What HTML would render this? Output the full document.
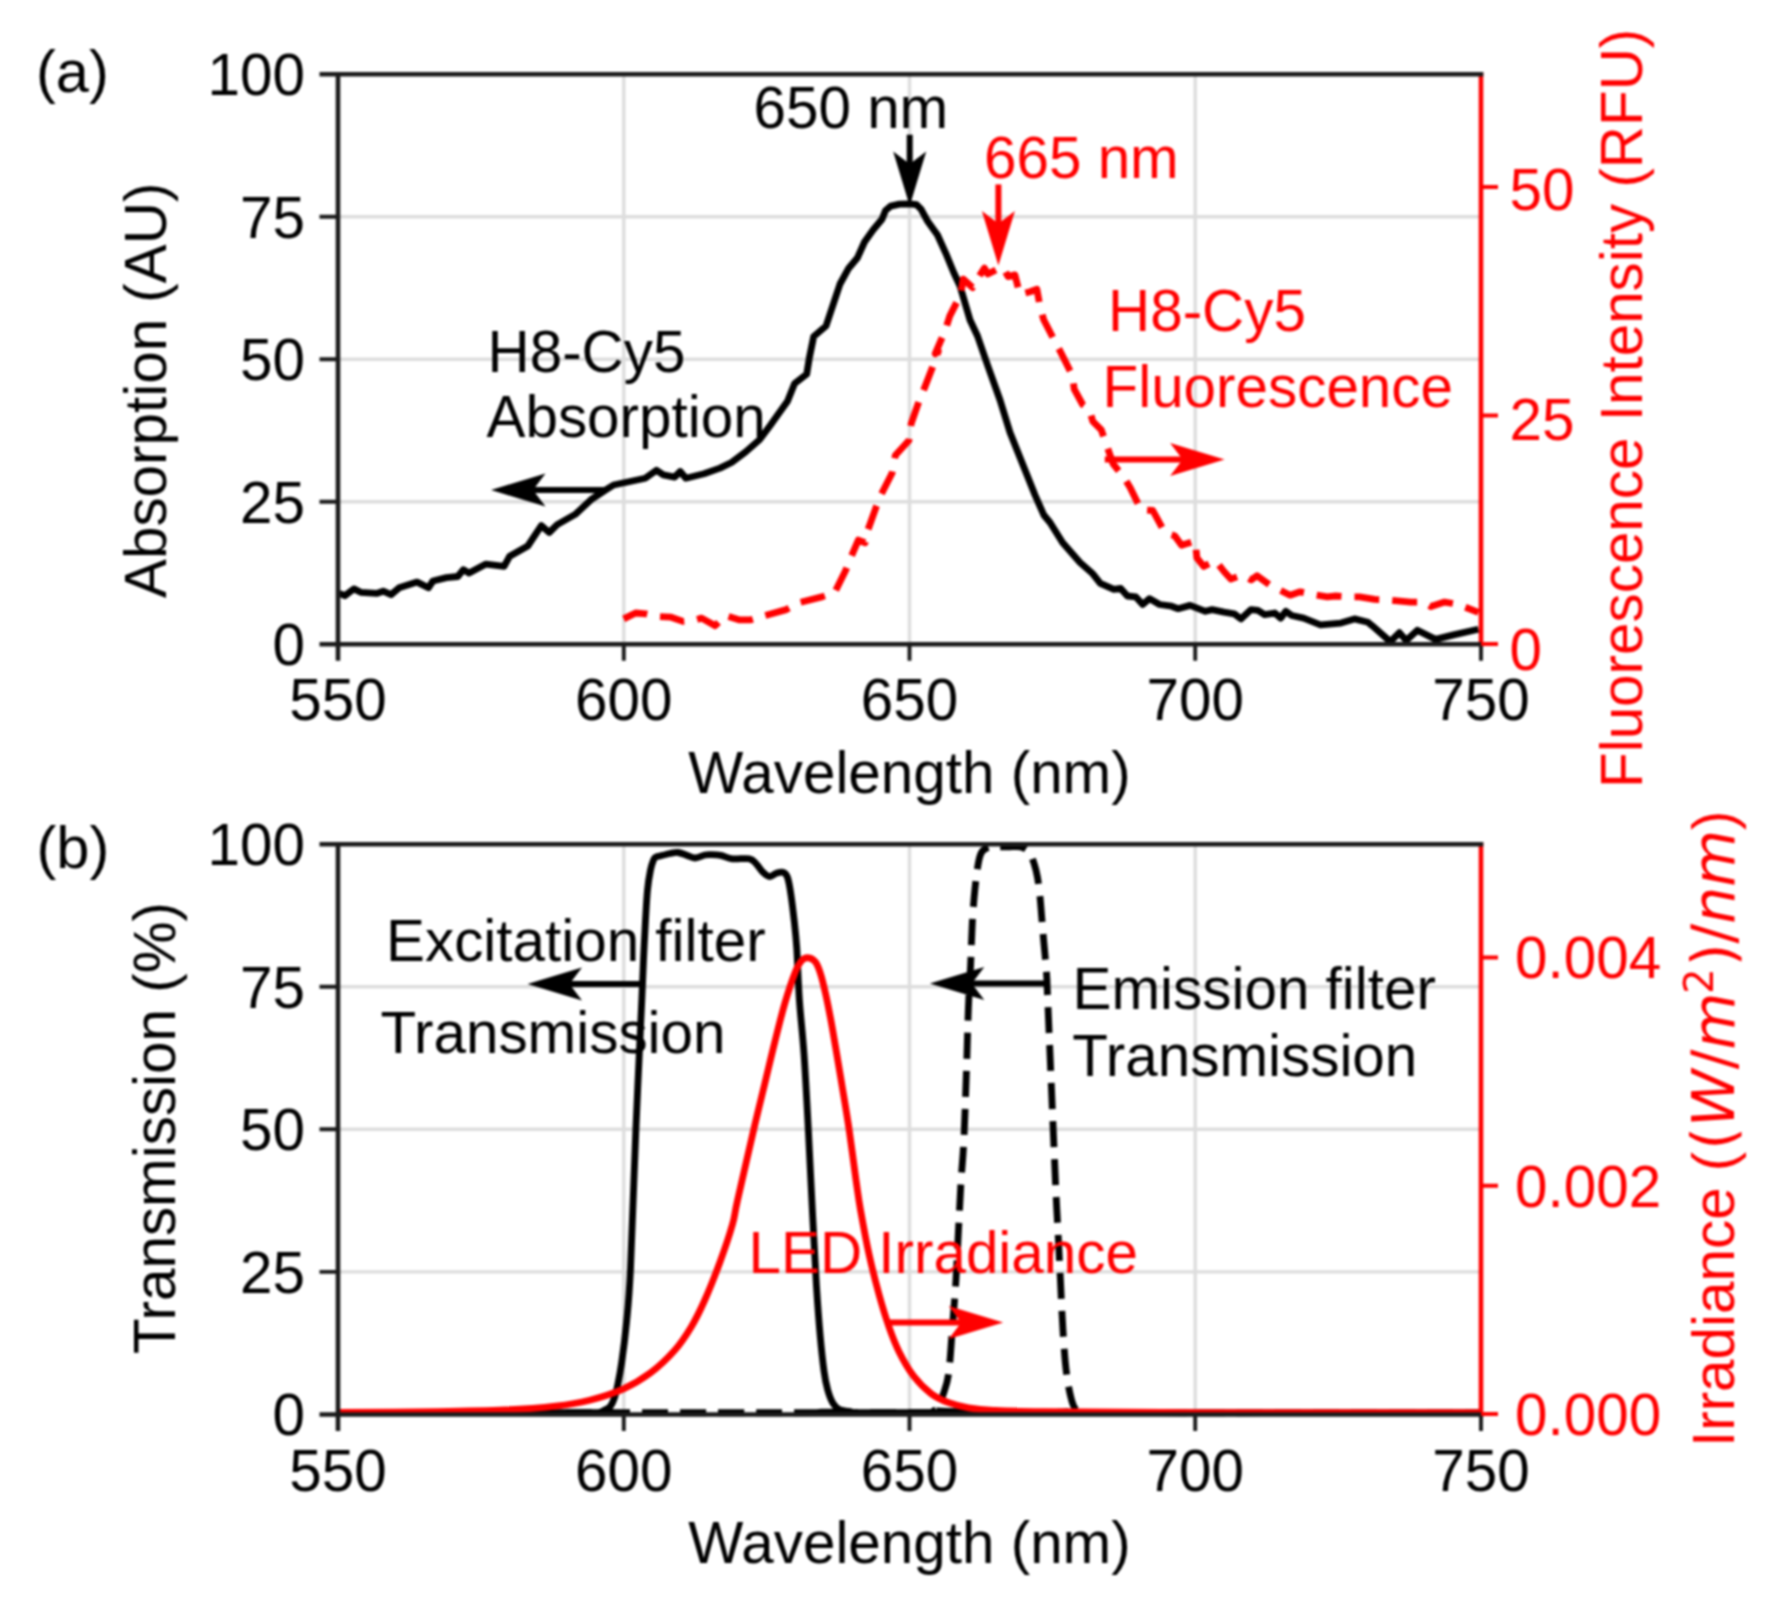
<!DOCTYPE html>
<html lang="en"><head><meta charset="utf-8"><title>H8-Cy5 spectra and filter transmission</title>
<style>html,body{margin:0;padding:0;background:#fff}svg{display:block;filter:blur(0.9px)}text{font-family:'Liberation Sans', Arial, Helvetica, sans-serif;font-size:58.4px}</style></head><body>
<svg width="1771" height="1600" viewBox="0 0 1771 1600">
<rect width="1771" height="1600" fill="#fff"/>
<g id="grid-a">
<path d="M623.8 74.3 V644.3 M338.0 216.8 H1481.0 M909.5 74.3 V644.3 M338.0 359.3 H1481.0 M1195.2 74.3 V644.3 M338.0 501.8 H1481.0" stroke="#dddddd" stroke-width="3.4" fill="none"/>
</g>
<g id="panel-a">
<path d="M339.2 593.4 L344.8 595.7 L353.9 588.9 L360.7 592.3 L376.5 593.4 L383.2 591.2 L391.1 594.6 L399.1 587.8 L417.1 582.1 L428.4 587.8 L432.9 581.0 L446.5 577.6 L457.8 576.5 L463.4 569.7 L469.1 573.1 L486.0 564.1 L504.1 566.3 L509.7 556.2 L527.8 546.0 L541.3 525.7 L549.2 532.5 L557.2 524.6 L575.2 514.4 L591.0 499.7 L604.6 490.7 L613.6 485.0 L645.2 478.2 L656.5 470.3 L663.3 474.9 L674.6 477.1 L680.2 471.5 L685.9 478.2 L704.0 473.7 L720.0 468.1 L731.5 462.5 L745.5 452.0 L759.5 439.7 L770.0 425.7 L778.7 413.5 L787.5 401.2 L794.5 383.7 L806.7 374.1 L809.4 357.5 L813.7 336.5 L826.0 326.0 L833.0 305.0 L840.0 284.0 L848.7 268.2 L857.5 257.7 L864.5 242.0 L873.2 229.7 L882.0 219.2 L885.5 210.5 L890.7 206.1 L899.5 204.1 L909.7 203.8 L916.5 204.7 L921.0 209.2 L927.8 221.6 L937.5 235.0 L945.8 253.3 L953.7 272.5 L960.0 286.0 L970.0 320.0 L977.5 336.0 L987.5 365.0 L1000.0 400.0 L1010.0 432.5 L1025.0 470.0 L1035.0 495.0 L1043.8 515.0 L1050.0 522.5 L1062.5 542.5 L1080.0 562.5 L1092.5 573.5 L1093.6 574.9 L1100.3 583.3 L1113.9 589.3 L1120.7 588.4 L1127.4 596.0 L1135.9 596.9 L1142.7 604.5 L1149.5 598.6 L1159.6 604.5 L1171.5 606.2 L1178.2 608.7 L1190.1 605.4 L1205.4 611.3 L1212.1 609.6 L1224.0 612.1 L1234.2 613.8 L1240.9 618.9 L1251.1 609.6 L1257.9 610.4 L1264.6 614.7 L1274.8 613.0 L1280.7 618.1 L1285.8 611.3 L1291.7 615.5 L1303.6 618.1 L1320.5 624.8 L1340.9 623.1 L1354.4 618.9 L1368.0 622.3 L1372.3 625.8 L1390.3 641.6 L1399.4 632.6 L1406.2 640.5 L1417.4 630.3 L1435.5 639.4 L1453.6 634.9 L1478.4 629.2" stroke="#000000" stroke-width="6.8" fill="none" stroke-linejoin="round"/>
<path d="M623.7 618.9 L635.6 613.0 L645.7 613.8 L657.6 616.4 L671.1 617.2 L683.0 621.4 L693.2 620.6 L701.6 618.1 L715.2 625.7 L725.4 615.5 L738.9 619.8 L750.8 619.8 L761.8 616.4 L786.3 609.6 L798.2 602.8 L821.9 596.9 L834.6 592.6 L845.6 570.6 L850.7 557.9 L858.3 540.1 L865.1 542.7 L867.6 530.8 L876.1 507.1 L881.2 494.4 L892.0 473.3 L895.4 455.2 L908.9 440.5 L911.2 423.6 L919.1 401.0 L924.7 387.4 L932.6 367.1 L938.3 351.3 L935.2 353.7 L945.4 329.9 L949.6 316.4 L960.7 294.4 L963.2 279.1 L972.5 287.6 L978.4 277.4 L984.4 268.1 L987.8 274.0 L996.2 269.8 L1003.0 267.3 L1008.1 276.6 L1014.9 274.9 L1019.9 294.4 L1030.1 291.8 L1036.9 289.3 L1040.3 307.9 L1043.7 319.8 L1055.5 342.6 L1060.6 352.0 L1072.5 375.7 L1074.2 389.2 L1082.6 404.5 L1089.4 409.6 L1092.8 421.4 L1101.3 429.9 L1106.3 444.3 L1113.1 463.8 L1123.3 476.5 L1130.1 487.5 L1141.0 509.6 L1152.8 510.5 L1164.7 532.5 L1174.9 535.9 L1181.6 545.2 L1195.2 541.0 L1196.9 557.9 L1203.7 566.4 L1215.5 560.5 L1224.0 571.5 L1230.8 579.1 L1242.6 574.9 L1251.1 579.9 L1257.0 575.7 L1269.7 585.0 L1276.5 588.4 L1290.1 595.2 L1300.2 591.8 L1312.1 594.3 L1327.3 596.9 L1335.8 596.0 L1349.3 596.9 L1359.5 596.9 L1374.7 599.4 L1388.1 599.9 L1410.7 602.1 L1424.2 602.1 L1431.0 606.6 L1444.6 602.1 L1458.1 604.4 L1478.4 612.3" stroke="#ff0000" stroke-width="6.8" fill="none" stroke-linejoin="round" stroke-dasharray="25 13"/>
<path d="M1481.0 72.0 V646.6" stroke="#ff0000" stroke-width="4.6" fill="none"/>
<path d="M319.5 74.3 H1483.3 M338.0 74.3 V660.8 M319.5 644.3 H1483.3" stroke="#1a1a1a" stroke-width="4.6" fill="none" stroke-linecap="butt"/>
<path d="M319.5 216.8 H338.0 M319.5 359.3 H338.0 M319.5 501.8 H338.0 M623.8 644.3 V660.8 M909.5 644.3 V660.8 M1195.2 644.3 V660.8 M1481.0 644.3 V660.8" stroke="#1a1a1a" stroke-width="3.9" fill="none"/>
<path d="M1481.0 644.0 H1498.0 M1481.0 415.5 H1498.0 M1481.0 187.0 H1498.0" stroke="#ff0000" stroke-width="3.9" fill="none"/>
<text x="1509.5" y="670.2" fill="#ff0000" text-anchor="start">0</text>
<text x="1509.5" y="439.5" fill="#ff0000" text-anchor="start">25</text>
<text x="1509.5" y="209.8" fill="#ff0000" text-anchor="start">50</text>
<text x="305.0" y="95.2" fill="#000000" text-anchor="end">100</text>
<text x="305.0" y="237.7" fill="#000000" text-anchor="end">75</text>
<text x="305.0" y="380.2" fill="#000000" text-anchor="end">50</text>
<text x="305.0" y="522.7" fill="#000000" text-anchor="end">25</text>
<text x="305.0" y="665.2" fill="#000000" text-anchor="end">0</text>
<text x="338.0" y="720.0" fill="#000000" text-anchor="middle">550</text>
<text x="623.8" y="720.0" fill="#000000" text-anchor="middle">600</text>
<text x="909.5" y="720.0" fill="#000000" text-anchor="middle">650</text>
<text x="1195.2" y="720.0" fill="#000000" text-anchor="middle">700</text>
<text x="1481.0" y="720.0" fill="#000000" text-anchor="middle">750</text>
<text x="909.5" y="793.0" fill="#000000" text-anchor="middle">Wavelength (nm)</text>
<text transform="translate(166.0 598.0) rotate(-90)" fill="#000000" text-anchor="start">Absorption (AU)</text>
<text transform="translate(1642.0 788.0) rotate(-90)" fill="#ff0000" text-anchor="start">Fluorescence Intensity (RFU)</text>
<text x="36.0" y="92.3" fill="#000000" text-anchor="start" style="font-size:59.6px">(a)</text>
<text x="753.5" y="128.0" fill="#000000" text-anchor="start">650 nm</text>
<text x="984.0" y="177.5" fill="#ff0000" text-anchor="start">665 nm</text>
<text x="487.5" y="372.0" fill="#000000" text-anchor="start">H8-Cy5</text>
<text x="486.5" y="436.5" fill="#000000" text-anchor="start">Absorption</text>
<text x="1108.0" y="330.5" fill="#ff0000" text-anchor="start">H8-Cy5</text>
<text x="1102.5" y="407.0" fill="#ff0000" text-anchor="start">Fluorescence</text>
<path d="M909.7 134.7 V168.0" stroke="#000000" stroke-width="6.0" fill="none"/>
<path d="M909.7 206.0 L893.2 151.5 L909.7 164.0 L926.2 151.5 Z" fill="#000000"/>
<path d="M998.4 184.4 V227.5" stroke="#ff0000" stroke-width="6.0" fill="none"/>
<path d="M998.4 265.5 L981.9 211.0 L998.4 223.5 L1014.9 211.0 Z" fill="#ff0000"/>
<path d="M606.0 490.0 H529.0" stroke="#000000" stroke-width="6.0" fill="none"/>
<path d="M491.0 490.0 L545.5 473.5 L533.0 490.0 L545.5 506.5 Z" fill="#000000"/>
<path d="M1104.8 459.5 H1186.6" stroke="#ff0000" stroke-width="6.0" fill="none"/>
<path d="M1224.6 459.5 L1170.1 443.0 L1182.6 459.5 L1170.1 476.0 Z" fill="#ff0000"/>
</g>
<g id="grid-b">
<path d="M623.8 844.2 V1414.5 M338.0 986.8 H1481.0 M909.5 844.2 V1414.5 M338.0 1129.3 H1481.0 M1195.2 844.2 V1414.5 M338.0 1271.9 H1481.0" stroke="#dddddd" stroke-width="3.4" fill="none"/>
</g>
<g id="panel-b">
<path d="M338.0 1412.6 C380.0 1412.6 546.3 1412.7 590.0 1412.6 C633.7 1412.5 597.7 1412.4 600.0 1412.1 C602.3 1411.8 601.9 1411.6 603.6 1410.6 C605.3 1409.6 608.5 1408.5 610.3 1406.3 C612.1 1404.2 613.1 1401.6 614.4 1397.9 C615.6 1394.3 616.6 1390.2 617.8 1384.4 C619.0 1378.6 620.1 1373.2 621.6 1362.9 C623.1 1352.6 625.0 1338.3 626.5 1322.6 C628.0 1306.9 628.9 1301.1 630.5 1268.8 C632.1 1236.5 634.0 1173.8 635.9 1129.0 C637.8 1084.2 640.5 1028.2 641.8 1000.0 C643.1 971.8 642.9 973.3 643.5 960.0 C644.1 946.7 644.8 931.7 645.5 920.0 C646.2 908.3 646.7 898.3 647.5 890.0 C648.3 881.7 649.5 875.0 650.5 870.0 C651.5 865.0 652.6 862.2 653.5 860.0 C654.4 857.8 654.9 857.7 656.0 857.0 C657.1 856.3 657.7 856.6 660.0 856.0 C662.3 855.4 667.0 854.1 670.0 853.5 C673.0 852.9 675.3 852.2 678.0 852.5 C680.7 852.8 683.2 854.1 686.0 855.0 C688.8 855.9 691.8 858.0 695.0 858.0 C698.2 858.0 702.4 855.6 705.0 855.0 C707.6 854.4 707.8 854.5 710.4 854.6 C713.0 854.7 716.9 854.7 720.6 855.4 C724.3 856.1 727.7 858.2 732.5 858.8 C737.3 859.4 745.4 857.9 749.4 858.8 C753.4 859.6 753.9 861.6 756.2 863.9 C758.5 866.1 760.8 870.2 763.0 872.3 C765.2 874.4 767.5 876.5 769.7 876.6 C772.0 876.8 774.2 873.9 776.5 873.2 C778.8 872.5 781.5 871.6 783.3 872.3 C785.1 873.0 786.2 873.7 787.5 877.4 C788.8 881.1 789.8 887.0 790.9 894.4 C792.0 901.8 793.3 912.5 794.3 921.5 C795.3 930.5 795.9 935.5 796.8 948.6 C797.6 961.7 798.2 982.5 799.4 1000.0 C800.6 1017.5 802.5 1032.3 804.0 1053.8 C805.5 1075.3 806.9 1102.1 808.3 1129.0 C809.7 1155.9 811.2 1189.0 812.6 1215.0 C814.0 1241.0 815.1 1264.8 816.4 1285.0 C817.7 1305.2 818.9 1321.7 820.2 1336.0 C821.5 1350.3 822.8 1362.0 824.0 1371.0 C825.2 1380.0 826.2 1384.4 827.7 1389.8 C829.2 1395.2 831.1 1400.2 833.1 1403.5 C835.1 1406.8 836.9 1408.3 839.8 1409.7 C842.7 1411.0 845.5 1411.1 850.5 1411.6 C855.5 1412.1 764.9 1412.4 870.0 1412.6 C975.1 1412.8 1379.2 1412.6 1481.0 1412.6" stroke="#000000" stroke-width="6.8" fill="none" stroke-linejoin="round"/>
<path d="M338.0 1412.6 C435.8 1412.6 825.7 1412.9 925.0 1412.6 C1024.3 1412.3 931.7 1411.6 934.0 1410.6 C936.3 1409.6 937.1 1409.1 938.6 1406.5 C940.1 1403.9 941.3 1400.5 943.0 1395.0 C944.7 1389.5 947.1 1384.8 948.6 1373.8 C950.1 1362.8 951.1 1344.8 952.3 1329.1 C953.5 1313.4 955.0 1296.0 956.0 1279.4 C957.0 1262.8 957.6 1246.3 958.5 1229.7 C959.4 1213.1 960.2 1194.4 961.1 1180.0 C962.0 1165.6 962.8 1160.7 963.7 1143.3 C964.6 1125.9 965.5 1098.1 966.3 1075.5 C967.1 1052.9 967.7 1026.1 968.4 1007.8 C969.1 989.5 970.1 976.5 970.6 965.5 C971.1 954.5 971.1 950.3 971.5 941.8 C971.9 933.3 972.2 923.5 972.8 914.7 C973.4 906.0 974.0 897.8 974.9 889.3 C975.8 880.8 977.1 870.1 978.2 863.9 C979.3 857.7 980.0 855.0 981.6 852.3 C983.2 849.6 985.7 848.4 988.0 847.5 C990.3 846.6 991.9 847.0 995.2 846.9 C998.5 846.8 1003.8 846.9 1008.0 846.9 C1012.2 846.9 1017.1 846.0 1020.6 846.9 C1024.1 847.8 1026.8 849.2 1029.1 852.0 C1031.4 854.8 1032.8 859.7 1034.2 863.9 C1035.6 868.1 1036.5 871.8 1037.5 877.4 C1038.5 883.0 1039.4 891.0 1040.1 897.8 C1040.8 904.6 1041.2 911.3 1041.8 918.1 C1042.4 924.9 1042.9 931.9 1043.5 938.4 C1044.1 944.9 1044.6 950.2 1045.2 957.0 C1045.8 963.8 1046.5 972.0 1046.9 979.1 C1047.3 986.2 1046.3 965.9 1047.7 999.4 C1049.1 1032.9 1053.7 1141.6 1055.4 1180.0 C1057.1 1218.4 1057.1 1213.1 1057.9 1229.7 C1058.7 1246.3 1059.6 1262.8 1060.4 1279.4 C1061.2 1296.0 1061.9 1313.4 1062.9 1329.1 C1063.9 1344.8 1064.9 1361.3 1066.6 1373.8 C1068.2 1386.3 1070.7 1397.8 1072.8 1403.9 C1074.9 1410.1 1076.1 1409.2 1079.0 1410.6 C1081.9 1412.0 1023.0 1412.3 1090.0 1412.6 C1157.0 1412.9 1415.8 1412.6 1481.0 1412.6" stroke="#000000" stroke-width="6.8" fill="none" stroke-linejoin="round" stroke-dasharray="26 12"/>
<path d="M338.9 1412.4 C355.3 1412.3 409.5 1412.0 437.2 1411.6 C464.9 1411.2 485.1 1410.9 504.9 1410.0 C524.6 1409.1 541.6 1407.8 555.7 1406.1 C569.8 1404.5 578.3 1403.1 589.6 1400.2 C600.9 1397.3 613.3 1393.4 623.5 1388.8 C633.7 1384.2 642.1 1379.1 650.6 1372.8 C659.1 1366.5 667.5 1358.4 674.3 1350.8 C681.1 1343.2 686.1 1335.5 691.2 1327.0 C696.3 1318.5 700.0 1310.8 704.8 1300.0 C709.6 1289.2 715.4 1274.5 720.0 1262.0 C724.6 1249.5 729.5 1235.0 732.4 1224.7 C735.3 1214.4 733.9 1216.4 737.6 1200.0 C741.3 1183.6 750.0 1145.6 754.5 1126.3 C759.0 1107.0 761.3 1098.1 764.7 1084.0 C768.1 1069.9 771.5 1055.1 774.9 1041.6 C778.3 1028.0 781.6 1014.3 785.0 1002.7 C788.4 991.1 792.4 979.3 795.2 972.2 C798.0 965.1 799.8 962.7 802.0 960.3 C804.2 957.9 806.5 957.5 808.7 957.8 C811.0 958.1 813.5 959.3 815.5 962.0 C817.5 964.7 818.9 968.5 820.6 973.9 C822.3 979.3 824.0 986.6 825.7 994.2 C827.4 1001.8 829.1 1010.6 830.8 1019.6 C832.5 1028.6 833.8 1036.8 835.8 1048.4 C837.8 1060.0 840.3 1075.2 842.6 1089.0 C844.9 1102.8 847.2 1116.2 849.4 1131.4 C851.6 1146.6 854.1 1166.9 856.0 1180.0 C857.9 1193.1 858.3 1197.4 860.5 1209.8 C862.7 1222.2 866.0 1240.4 869.1 1254.5 C872.2 1268.6 875.7 1282.3 879.0 1294.3 C882.3 1306.3 885.6 1317.1 888.9 1326.6 C892.2 1336.1 894.8 1343.1 898.9 1351.4 C903.0 1359.7 908.4 1369.2 913.8 1376.3 C919.2 1383.3 925.4 1389.3 931.2 1393.7 C937.0 1398.1 942.4 1400.3 948.6 1402.7 C954.8 1405.0 961.0 1406.5 968.4 1407.8 C975.8 1409.1 980.9 1409.8 993.3 1410.4 C1005.7 1411.0 1008.5 1411.2 1043.0 1411.6 C1077.5 1412.0 1127.0 1412.4 1200.0 1412.6 C1273.0 1412.8 1434.2 1412.6 1481.0 1412.6" stroke="#ff0000" stroke-width="6.8" fill="none" stroke-linejoin="round"/>
<path d="M1481.0 841.9 V1416.8" stroke="#ff0000" stroke-width="4.6" fill="none"/>
<path d="M319.5 844.2 H1483.3 M338.0 844.2 V1431.0 M319.5 1414.5 H1483.3" stroke="#1a1a1a" stroke-width="4.6" fill="none" stroke-linecap="butt"/>
<path d="M319.5 986.8 H338.0 M319.5 1129.3 H338.0 M319.5 1271.9 H338.0 M623.8 1414.5 V1431.0 M909.5 1414.5 V1431.0 M1195.2 1414.5 V1431.0 M1481.0 1414.5 V1431.0" stroke="#1a1a1a" stroke-width="3.9" fill="none"/>
<path d="M1481.0 1414.0 H1498.0 M1481.0 1185.8 H1498.0 M1481.0 957.5 H1498.0" stroke="#ff0000" stroke-width="3.9" fill="none"/>
<text x="1515.0" y="1434.9" fill="#ff0000" text-anchor="start">0.000</text>
<text x="1515.0" y="1206.7" fill="#ff0000" text-anchor="start">0.002</text>
<text x="1515.0" y="978.4" fill="#ff0000" text-anchor="start">0.004</text>
<text x="305.0" y="865.1" fill="#000000" text-anchor="end">100</text>
<text x="305.0" y="1007.7" fill="#000000" text-anchor="end">75</text>
<text x="305.0" y="1150.3" fill="#000000" text-anchor="end">50</text>
<text x="305.0" y="1292.8" fill="#000000" text-anchor="end">25</text>
<text x="305.0" y="1435.4" fill="#000000" text-anchor="end">0</text>
<text x="338.0" y="1490.5" fill="#000000" text-anchor="middle">550</text>
<text x="623.8" y="1490.5" fill="#000000" text-anchor="middle">600</text>
<text x="909.5" y="1490.5" fill="#000000" text-anchor="middle">650</text>
<text x="1195.2" y="1490.5" fill="#000000" text-anchor="middle">700</text>
<text x="1481.0" y="1490.5" fill="#000000" text-anchor="middle">750</text>
<text x="909.5" y="1563.0" fill="#000000" text-anchor="middle">Wavelength (nm)</text>
<text transform="translate(174.5 1354.0) rotate(-90)" fill="#000000" text-anchor="start">Transmission (%)</text>
<text transform="translate(1734 1447) rotate(-90)" fill="#ff0000">Irradiance (<tspan font-family="'DejaVu Sans', 'Liberation Sans', sans-serif" dx="2">(</tspan><tspan font-family="'DejaVu Sans', 'Liberation Sans', sans-serif" font-style="italic">W</tspan><tspan font-family="'DejaVu Sans', 'Liberation Sans', sans-serif">/</tspan><tspan font-family="'DejaVu Sans', 'Liberation Sans', sans-serif" font-style="italic">m</tspan><tspan font-family="'DejaVu Sans', 'Liberation Sans', sans-serif" font-size="40.6px" dy="-21" dx="-1.5">2</tspan><tspan font-family="'DejaVu Sans', 'Liberation Sans', sans-serif" dy="21" dx="2">)/</tspan><tspan font-family="'DejaVu Sans', 'Liberation Sans', sans-serif" font-style="italic">nm</tspan>)</text>
<text x="36.5" y="867.5" fill="#000000" text-anchor="start" style="font-size:59.6px">(b)</text>
<text x="386.0" y="960.5" fill="#000000" text-anchor="start">Excitation filter</text>
<text x="380.5" y="1052.5" fill="#000000" text-anchor="start">Transmission</text>
<text x="1072.5" y="1009.0" fill="#000000" text-anchor="start">Emission filter</text>
<text x="1072.3" y="1076.0" fill="#000000" text-anchor="start">Transmission</text>
<text x="748.5" y="1272.5" fill="#ff0000" text-anchor="start">LED Irradiance</text>
<path d="M641.0 984.0 H565.5" stroke="#000000" stroke-width="6.0" fill="none"/>
<path d="M527.5 984.0 L582.0 967.5 L569.5 984.0 L582.0 1000.5 Z" fill="#000000"/>
<path d="M1044.5 983.5 H967.8" stroke="#000000" stroke-width="6.0" fill="none"/>
<path d="M929.8 983.5 L984.3 967.0 L971.8 983.5 L984.3 1000.0 Z" fill="#000000"/>
<path d="M889.0 1322.4 H965.2" stroke="#ff0000" stroke-width="6.0" fill="none"/>
<path d="M1003.2 1322.4 L948.7 1305.9 L961.2 1322.4 L948.7 1338.9 Z" fill="#ff0000"/>
</g>
</svg></body></html>
